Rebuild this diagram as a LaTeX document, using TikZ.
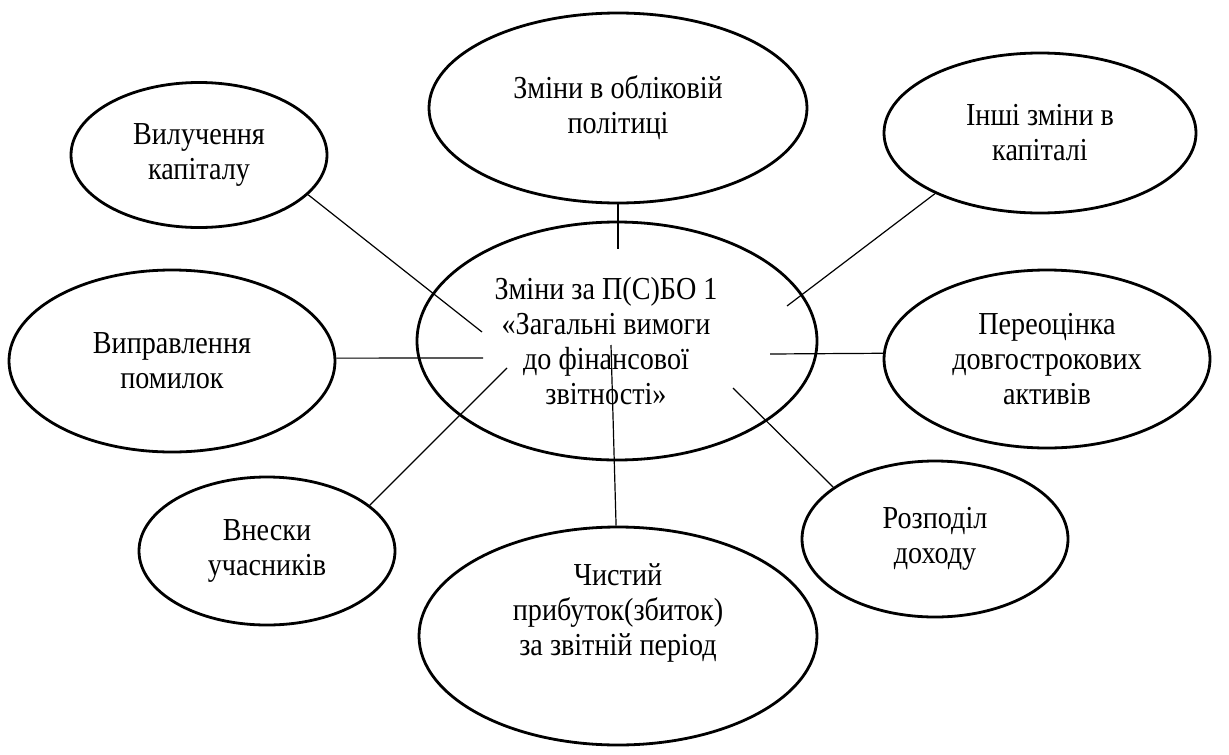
\documentclass[tikz,border=0pt]{standalone}
\usepackage{fontspec}
\setmainfont[FakeStretch=0.88]{Liberation Serif}
\usetikzlibrary{shapes.geometric}
\begin{document}
\begin{tikzpicture}[x=1pt,y=-1pt,
  ell/.style={draw=black,line width=2.8pt,ellipse,inner sep=0pt,align=center,
    font=\fontsize{32}{35}\selectfont},
  txt/.style={inner sep=0pt,align=center,font=\fontsize{32}{35}\selectfont},
  link/.style={draw=black,line width=1.2pt}]
\useasboundingbox[fill=white] (0,0) rectangle (1229,755);
% ellipses
\node[ell,minimum width=378pt,minimum height=190pt] (pol) at (618,108) {Зміни в обліковій\\політиці};
\node[ell,minimum width=256pt,minimum height=145pt] (vil) at (199,155) {Вилучення\\капіталу};
\node[ell,minimum width=312pt,minimum height=160pt] (insh) at (1040,133) {Інші зміни в\\капіталі};
\node[ell,minimum width=400pt,minimum height=238pt] (cen) at (617,341) {};
\node[txt] (centext) at (606,341) {Зміни за П(С)БО 1\\«Загальні вимоги\\до фінансової\\звітності»};
\node[ell,minimum width=326pt,minimum height=182pt] (vyp) at (172,361) {Виправлення\\помилок};
\node[ell,minimum width=326pt,minimum height=178pt] (per) at (1047,359) {Переоцінка\\довгострокових\\активів};
\node[ell,minimum width=256pt,minimum height=148pt] (vnes) at (267,551) {Внески\\учасників};
\node[ell,minimum width=266pt,minimum height=156pt] (roz) at (935,539) {Розподіл\\доходу};
\node[ell,minimum width=398pt,minimum height=218pt] (net) at (618,636) {};
\node[txt] (nettext) at (618,613) {Чистий\\прибуток(збиток)\\за звітній період};
% free ends inside the central ellipse
\coordinate (e1) at (618,249);
\coordinate (e2) at (482,332);
\coordinate (e3) at (787,306);
\coordinate (e4) at (483,358);
\coordinate (e5) at (770,354);
\coordinate (e6) at (507,368);
\coordinate (e7) at (611,345);
\coordinate (e8) at (733,388);
% connectors
\draw[link] (pol.south) -- (e1);
\draw[link] (vil.-20.7) -- (e2);
\draw[link] (insh.-150.3) -- (e3);
\draw[link] (vyp.1) -- (e4);
\draw[link] (per.178.6) -- (e5);
\draw[link] (vnes.24.5) -- (e6);
\draw[link] (net.91) -- (e7);
\draw[link] (roz.153.9) -- (e8);
\end{tikzpicture}
\end{document}
